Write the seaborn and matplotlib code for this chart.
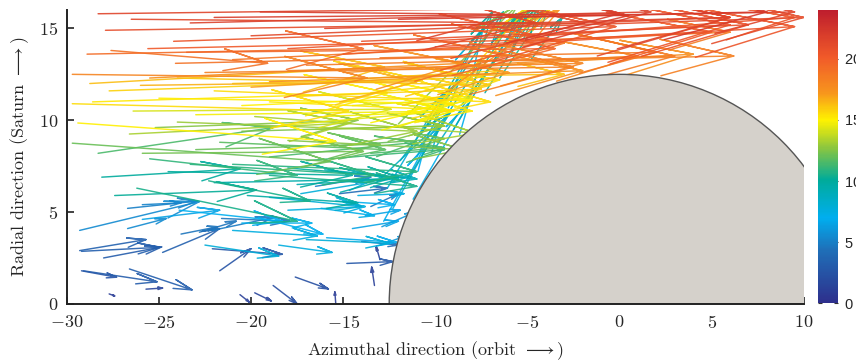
import numpy as np
import pandas as pd
import matplotlib
matplotlib.use("Agg")
import matplotlib.pyplot as plt
from matplotlib.colors import LinearSegmentedColormap, Normalize
from matplotlib.cm import ScalarMappable
from matplotlib.patches import Circle
import seaborn as sns

# arrows: (x0, y0, u, v, speed)
# dark blue, slow ones near the bottom
arrows_darkblue = [
    (-29.2, 1.8, 1.9, -0.35, 2.5), (-29.1, 1.8, 4.0, -0.6, 3.0),
    (-26.6, 1.9, 3.4, -1.14, 3.2), (-25.7, 0.8, 0.9, 0.06, 1.5),
    (-27.7, 0.54, 0.3, -0.11, 1.0), (-29.2, 2.86, 4.25, 0.22, 3.2),
    (-28.0, 2.5, 3.15, 0.6, 3.0), (-24.8, 2.8, 3.1, 1.3, 3.3),
    (-21.7, 1.8, 1.7, 1.2, 2.5), (-22.1, 3.0, 3.8, -0.3, 2.8),
    (-17.6, 1.46, 1.8, -0.65, 2.2), (-18.8, 1.0, 1.3, -1.0, 2.0),
    (-19.8, 0.6, 0.9, -0.44, 1.5), (-15.4, 0.0, -0.05, 0.65, 1.0),
    (-13.3, 1.0, -0.15, 1.0, 1.2), (-13.0, 2.4, -0.2, 0.7, 1.2),
    (-14.8, 2.2, 2.5, 0.1, 2.8), (-20.6, 0.5, 0.5, -0.4, 1.2),
    (-29.3, 2.9, 3.6, 0.6, 3.4),
]
# blue, cyan band (y 3 - 6)
arrows_blue = [
    (-29.3, 4.0, 6.5, 1.57, 5.5), (-26.7, 5.2, 3.8, 0.4, 5.0),
    (-25.9, 5.4, 2.1, 0.1, 5.2), (-23.8, 3.8, 2.0, 0.4, 4.5),
    (-22.8, 3.9, 2.0, 0.6, 4.5), (-21.6, 4.65, 3.7, -0.15, 4.5),
    (-22.1, 4.0, 3.3, 0.7, 4.8), (-26.7, 4.1, 2.1, 0.55, 5.5),
    (-15.2, 6.0, 2.6, 0.3, 4.0), (-13.5, 5.3, 1.5, 0.7, 4.5),
    (-14.0, 3.4, 2.0, -0.2, 4.0), (-16.5, 6.4, 3.0, 0.5, 5.0),
]
arrows_cyan = [
    (-25.9, 4.6, 4.2, 0.5, 6.5), (-23.9, 5.1, 5.6, -0.6, 7.0),
    (-20.5, 4.4, 3.8, 0.0, 7.2), (-21.0, 4.0, 4.6, -0.3, 7.5),
    (-19.6, 4.7, 3.5, -0.9, 7.0), (-18.5, 3.2, 2.9, -0.4, 7.5),
    (-17.0, 3.5, 4.5, -0.2, 7.8), (-15.9, 3.6, 3.8, -0.25, 6.8),
    (-18.0, 5.1, 4.2, 0.2, 7.5), (-16.2, 5.2, 2.9, -0.4, 7.3),
    (-14.5, 4.1, 2.5, 0.4, 6.5), (-15.4, 5.6, 3.2, -0.2, 7.0),
    (-22.5, 3.2, 4.0, -0.6, 7.8), (-13.8, 4.8, 1.9, 0.3, 6.5),
    (-17.3, 6.0, 3.6, 0.6, 7.8), (-13.0, 3.2, 1.4, 0.5, 6.0),
    (-19.0, 5.8, 5.0, -0.5, 8.0), (-14.2, 5.9, 2.5, 0.1, 7.5),
    (-12.9, 4.2, 1.8, 0.8, 6.0),
]
# teal and green band (y 5.5 - 10)
arrows_teal = [
    (-28.1, 6.9, 7.5, 0.45, 10.0), (-27.4, 5.9, 7.7, 0.3, 10.2),
    (-26.2, 6.3, 8.7, -1.8, 10.5), (-24.5, 7.2, 10.0, -0.2, 10.0),
    (-22.0, 6.6, 9.5, 0.2, 9.5), (-20.2, 5.9, 6.0, -0.4, 9.8),
    (-19.0, 7.0, 8.0, -0.6, 10.5), (-17.5, 6.5, 5.5, 0.3, 9.2),
    (-16.0, 7.3, 5.0, -0.5, 9.0), (-21.0, 7.6, 10.0, -0.4, 10.8),
    (-14.5, 6.7, 3.0, 0.2, 9.0), (-25.5, 7.9, 8.0, -0.9, 11.0),
    (-23.3, 7.6, 10.0, -0.6, 10.8), (-22.3, 6.7, 5.5, -1.1, 10.5),
    (-18.0, 7.4, 6.0, -0.5, 10.0),
]
arrows_green = [
    (-29.7, 8.75, 14.0, -1.0, 12.0), (-28.3, 8.2, 9.5, 1.4, 11.5),
    (-25.9, 8.2, 12.0, 0.1, 12.2), (-26.6, 9.25, 12.0, 0.6, 13.3),
    (-25.2, 9.6, 11.0, 0.4, 12.6), (-21.7, 8.8, 9.0, -0.4, 11.8),
    (-20.5, 9.4, 11.0, 0.3, 12.4), (-19.0, 8.0, 8.0, 0.8, 11.5),
    (-18.0, 8.9, 9.5, -0.5, 12.5), (-17.0, 7.8, 7.5, 0.6, 11.2),
    (-24.0, 9.9, 13.0, -0.5, 13.0), (-15.5, 8.6, 6.0, 0.4, 12.0),
    (-19.8, 10.2, 12.0, -0.9, 13.2), (-23.0, 8.4, 10.0, 0.3, 12.0),
    (-16.5, 9.5, 7.0, 0.2, 13.0), (-13.5, 8.2, 4.0, 0.3, 11.5),
]
# yellow band (y 9.5 - 12.5)
arrows_yellow = [
    (-29.4, 9.85, 14.0, -1.0, 15.0), (-29.7, 10.9, 15.0, -0.4, 15.5),
    (-28.6, 11.0, 16.0, 0.5, 15.2), (-26.4, 10.5, 14.0, 0.1, 14.2),
    (-27.7, 11.6, 17.0, 0.6, 15.8), (-28.75, 12.0, 16.0, 0.9, 16.3),
    (-25.0, 11.2, 16.0, -0.3, 15.0), (-23.0, 10.3, 14.0, 0.2, 14.8),
    (-22.0, 11.6, 15.0, -0.6, 15.5), (-20.5, 10.8, 12.0, 0.5, 15.0),
    (-18.5, 9.7, 9.0, 0.8, 14.5), (-17.5, 11.3, 10.0, 0.4, 15.8),
    (-16.0, 10.2, 7.0, 0.3, 14.8), (-24.0, 12.3, 17.0, -0.4, 16.0),
    (-13.5, 11.5, 7.0, 0.7, 15.5), (-15.0, 12.2, 8.5, 0.5, 16.0),
    (-11.5, 10.5, 3.5, 0.6, 15.0), (-12.0, 12.4, 9.0, 0.1, 16.2),
    (-21.0, 12.0, 13.0, 0.3, 16.0), (-19.0, 11.0, 11.0, -0.5, 15.2),
    (-14.5, 10.8, 6.5, 0.4, 14.5), (-26.0, 11.9, 15.0, 0.2, 16.5),
]
# orange band (y 12 - 14.5)
arrows_orange = [
    (-29.7, 12.5, 16.0, -0.2, 18.0), (-28.9, 13.6, 15.0, 0.3, 19.3),
    (-27.6, 13.8, 8.5, -0.7, 19.0), (-24.1, 13.1, 18.0, 0.4, 19.0),
    (-25.5, 12.3, 17.0, 0.8, 17.5), (-22.5, 12.6, 20.0, 0.3, 18.2),
    (-21.0, 13.3, 18.0, 0.9, 18.8), (-19.0, 12.1, 17.0, 0.6, 17.5),
    (-17.0, 13.0, 20.0, 0.5, 18.5), (-15.0, 12.6, 16.0, 0.9, 17.8),
    (-13.0, 13.4, 15.0, 0.3, 18.6), (-10.0, 12.8, 14.0, 0.8, 17.5),
    (-8.0, 13.2, 14.2, 0.3, 18.2), (-20.0, 11.8, 14.0, 0.8, 17.0),
    (-6.0, 14.3, 12.0, 0.5, 18.5), (-18.0, 12.7, 16.0, 0.4, 18.0),
    (-23.5, 13.7, 20.0, 0.2, 19.5),
]
# red band (y 13.5 - 16)
arrows_red = [
    (-28.3, 15.8, 24.0, 0.3, 21.5), (-27.9, 14.9, 26.0, 0.4, 21.0),
    (-23.3, 15.3, 25.0, 0.6, 21.8), (-24.2, 14.3, 24.0, 0.8, 20.5),
    (-25.6, 13.9, 22.0, 0.5, 20.2), (-20.0, 14.6, 26.0, 1.0, 21.2),
    (-22.0, 15.6, 22.0, 0.2, 22.0), (-18.0, 13.9, 24.0, 1.3, 20.5),
    (-16.0, 15.0, 22.0, 0.6, 21.5), (-14.0, 14.3, 21.0, 0.9, 20.8),
    (-12.0, 15.5, 20.0, 0.4, 22.3), (-10.0, 14.0, 19.5, 1.1, 20.5),
    (-8.0, 15.0, 18.0, 0.6, 21.0), (-26.5, 15.5, 22.0, -0.2, 21.3),
    (-19.5, 15.9, 20.0, -0.2, 22.0), (-15.0, 13.6, 20.0, 1.2, 20.0),
    (-6.0, 15.6, 15.5, 0.3, 21.5), (-4.0, 14.6, 13.5, 1.0, 20.5),
]
# steep ones deflected up along the moon
arrows_steep = [
    (-12.6, 6.3, 3.0, 5.1, 8.0), (-11.9, 7.8, 3.2, 4.3, 8.5),
    (-12.3, 5.2, 2.5, 4.5, 7.5), (-11.5, 6.8, 4.0, 6.5, 9.0),
    (-10.8, 9.2, 4.5, 6.7, 9.5), (-9.75, 10.9, 2.85, 5.0, 10.0),
    (-8.0, 12.0, 2.4, 3.8, 10.5), (-4.8, 13.3, 1.7, 2.3, 10.0),
    (-10.0, 8.5, 5.0, 7.5, 8.5), (-11.0, 8.0, 3.6, 7.0, 7.8),
    (-9.0, 9.5, 3.8, 6.5, 9.2), (-8.6, 10.8, 4.2, 5.5, 11.0),
    (-12.8, 4.5, 2.2, 4.0, 7.0), (-11.2, 5.7, 3.0, 5.2, 7.2),
    (-7.3, 11.5, 3.0, 4.8, 9.8), (-6.5, 12.3, 2.7, 4.0, 10.5),
    (-10.4, 10.2, 5.5, 6.0, 15.5), (-9.2, 11.7, 6.0, 4.4, 17.5),
    (-13.2, 6.6, 4.0, 3.8, 8.8), (-12.0, 9.8, 6.5, 6.5, 12.5),
    (-7.8, 13.0, 4.0, 3.0, 16.0), (-11.6, 4.2, 1.8, 3.2, 6.5),
]

moon_center = (0.0, 0.0)
moon_radius = 12.5
speed_ticks = [0, 5, 10, 15, 20]
speed_max = 24

all_arrows = (arrows_darkblue + arrows_blue + arrows_cyan + arrows_teal + arrows_green
              + arrows_yellow + arrows_orange + arrows_red + arrows_steep)

# quiver style arrows: shaft + two barbs, drawn as one polyline each
a_head, b_head = 0.28, 0.25
rows = []
for i, (x0, y0, u, v, s) in enumerate(all_arrows):
    tx, ty = x0 + u, y0 + v
    b1 = (tx - a_head * (u + b_head * v), ty - a_head * (v - b_head * u))
    b2 = (tx - a_head * (u - b_head * v), ty - a_head * (v + b_head * u))
    for k, (px, py) in enumerate([(x0, y0), (tx, ty), b1, (tx, ty), b2]):
        rows.append({"arrow": i, "order": k, "x": px, "y": py, "speed": s})
df = pd.DataFrame(rows)

cmap = LinearSegmentedColormap.from_list("printjet", [
    (0.0, "#2e2f8c"), (0.18, "#1f6fb8"), (0.29, "#00aeef"), (0.42, "#00ab9a"),
    (0.53, "#8cc63f"), (0.625, "#fff200"), (0.72, "#f7941d"), (0.84, "#f15a29"),
    (1.0, "#be1e2d")])

sns.set_style("ticks")
plt.rcParams["font.family"] = "serif"
plt.rcParams["font.serif"] = ["cmr10", "DejaVu Serif"]
plt.rcParams["mathtext.fontset"] = "cm"
plt.rcParams["axes.formatter.use_mathtext"] = True

fig = plt.figure(figsize=(8.56, 3.6), dpi=100)
ax = fig.add_axes([0.078, 0.156, 0.861, 0.816])

sns.lineplot(data=df, x="x", y="y", units="arrow", estimator=None, sort=False,
             hue="speed", palette=cmap, hue_norm=(0, speed_max), legend=False,
             linewidth=1.05, alpha=0.9, ax=ax)

moon = Circle(moon_center, moon_radius, facecolor="#d5d1cb", edgecolor="#555555",
              linewidth=1.0, zorder=5)
ax.add_patch(moon)

ax.set_xlim(-30, 10)
ax.set_ylim(0, 16)
ax.set_xticks([-30, -25, -20, -15, -10, -5, 0, 5, 10])
ax.set_yticks([0, 5, 10, 15])
sns.despine(ax=ax)
for sp in ["left", "bottom"]:
    ax.spines[sp].set_linewidth(1.4)
    ax.spines[sp].set_color("#222222")
    ax.spines[sp].set_zorder(6)
ax.tick_params(direction="in", length=5, width=1.2, labelsize=13, color="#222222")
ax.tick_params(axis="x", pad=7)
ax.tick_params(axis="y", pad=6)
ax.set_xlabel(r"Azimuthal direction (orbit $\longrightarrow$)", fontsize=13, labelpad=6)
ax.set_ylabel(r"Radial direction (Saturn $\longrightarrow$)", fontsize=13, labelpad=6)

cax = fig.add_axes([0.956, 0.158, 0.0234, 0.814])
sm = ScalarMappable(norm=Normalize(0, speed_max), cmap=cmap)
cb = fig.colorbar(sm, cax=cax, ticks=speed_ticks)
cb.outline.set_visible(False)
cax.tick_params(direction="in", length=3, width=0.8, color="#333333", labelsize=10.5,
                right=True, left=True, pad=4)
for lab in cax.get_yticklabels():
    lab.set_family("Liberation Sans")

fig.savefig("out.png", dpi=100)
